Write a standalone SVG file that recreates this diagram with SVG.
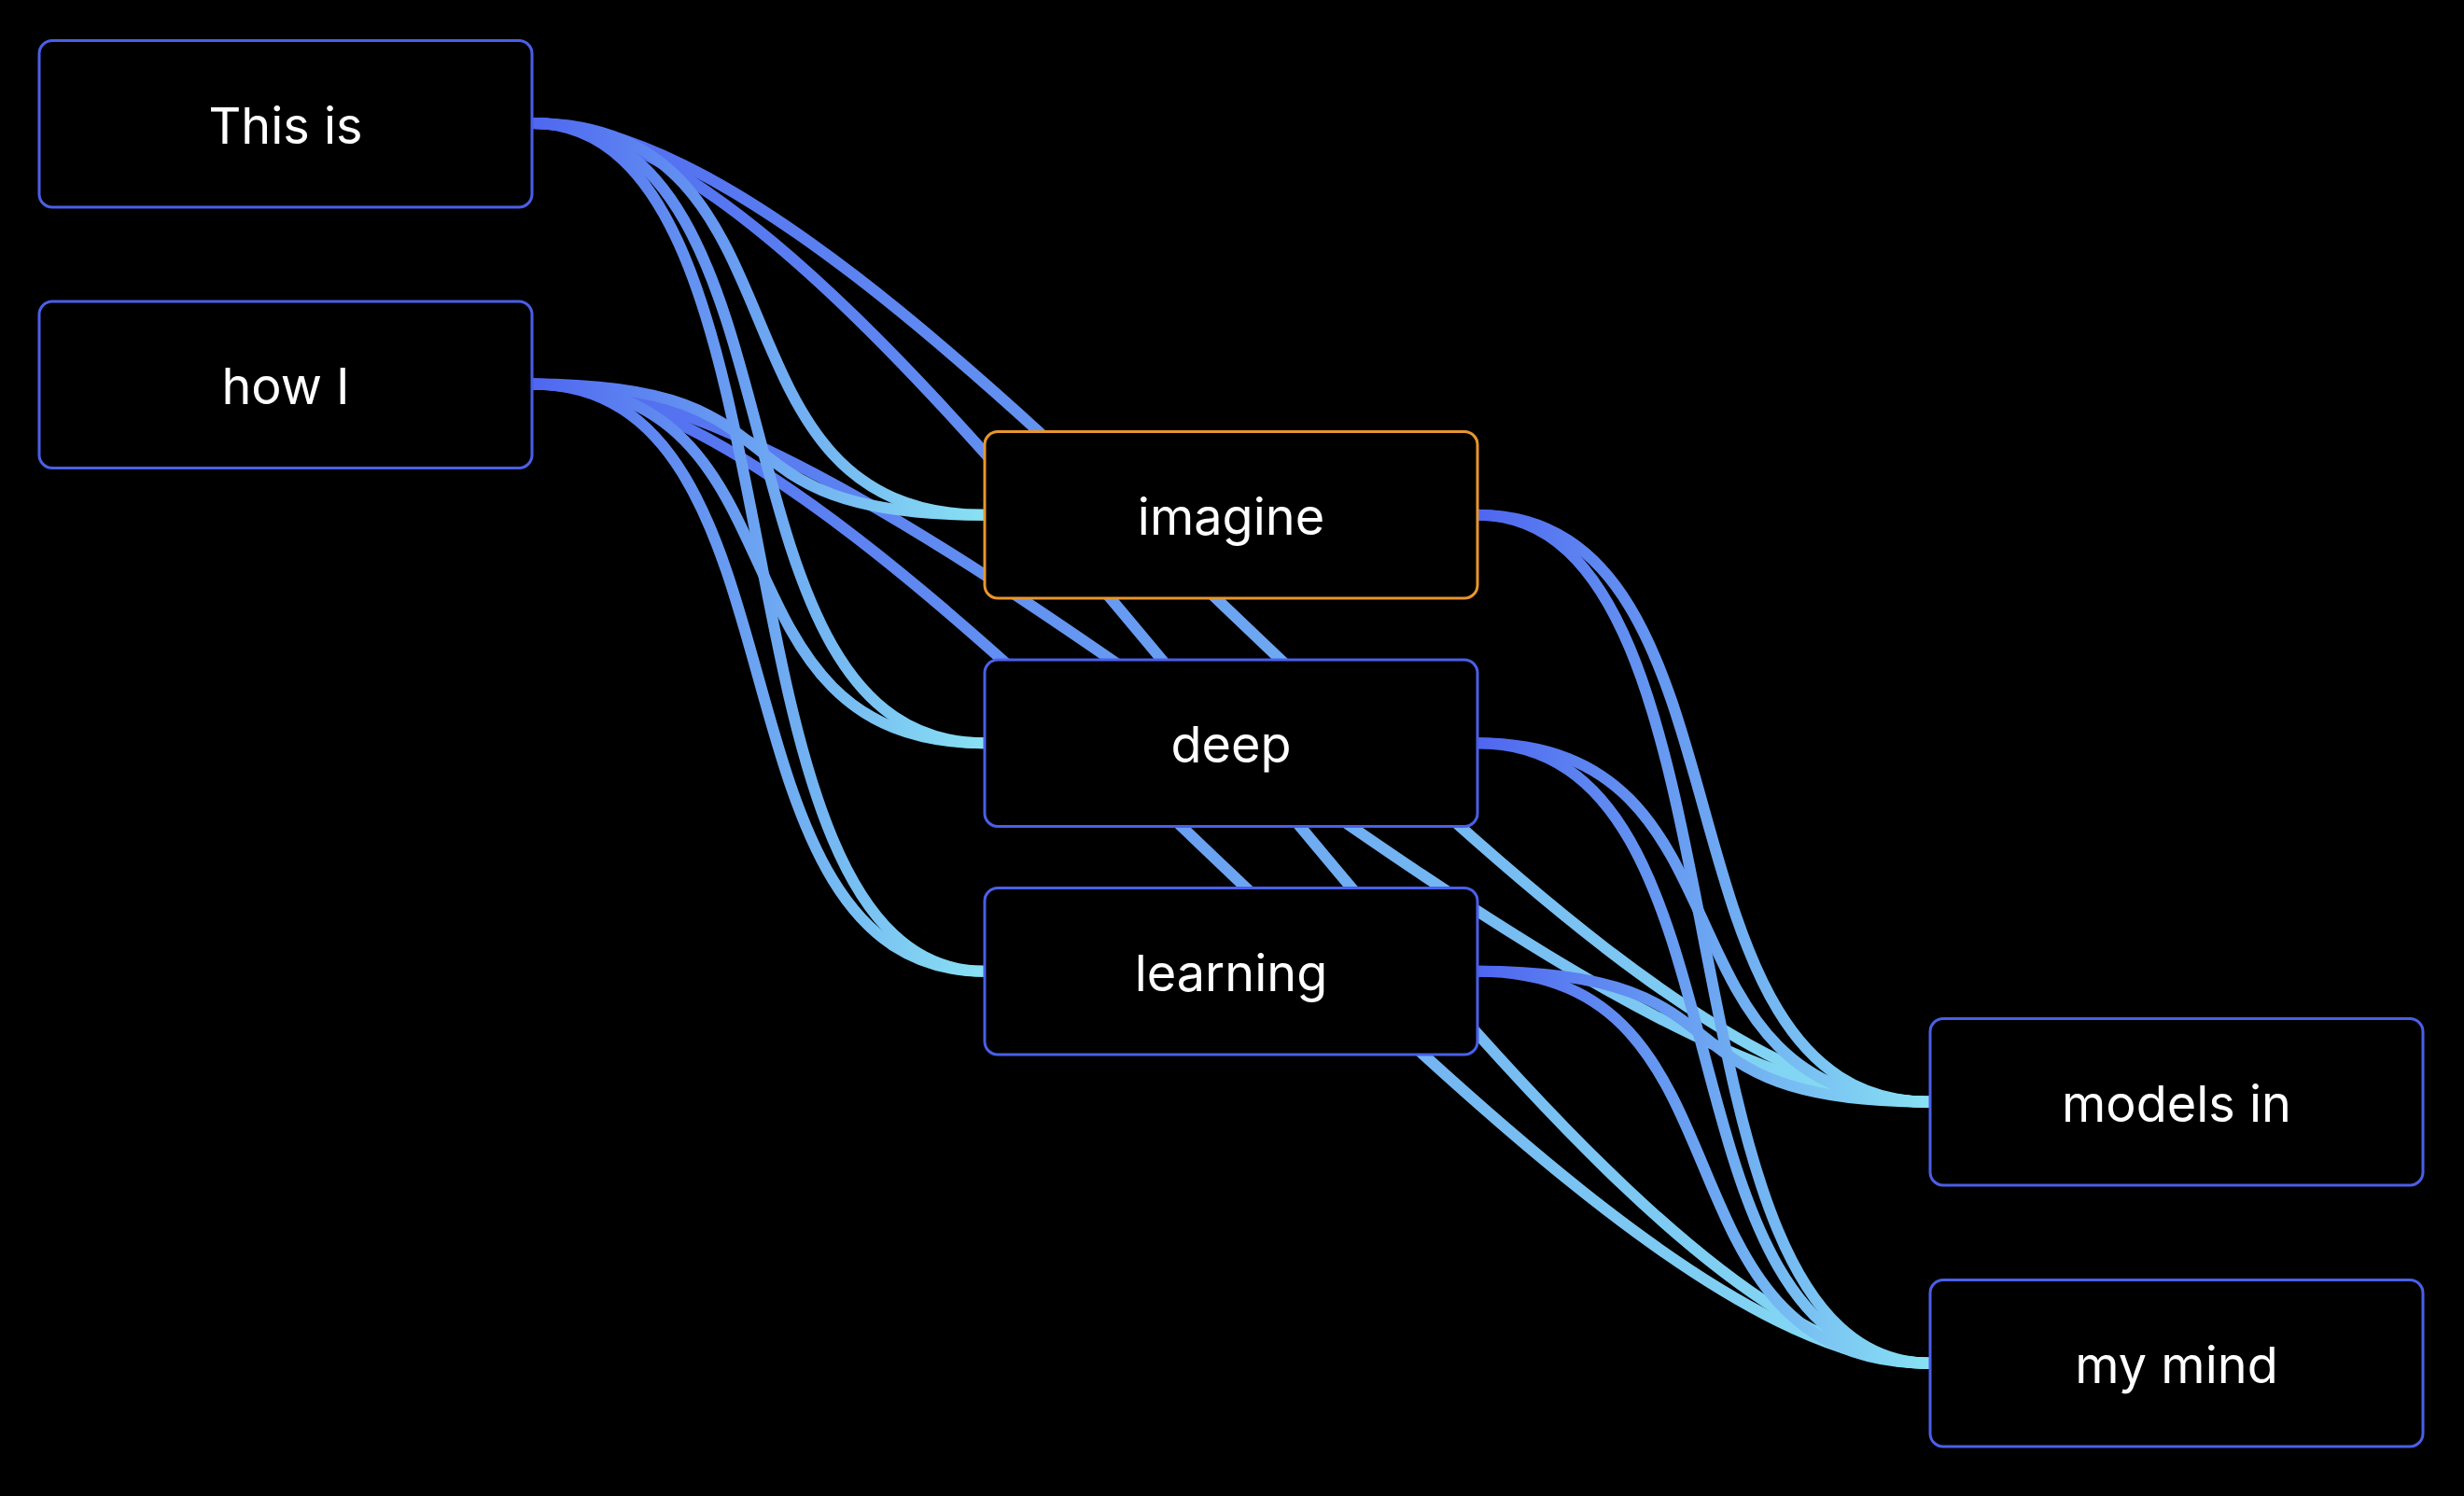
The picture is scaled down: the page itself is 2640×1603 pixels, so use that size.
<svg xmlns="http://www.w3.org/2000/svg" width="2640" height="1603" viewBox="0 0 2640 1603">
  <defs>
    <linearGradient id="edgeGrad" x1="0" y1="0" x2="1" y2="0">
      <stop offset="0" stop-color="#4F66F0"/>
      <stop offset="1" stop-color="#88E2F3"/>
    </linearGradient>
    <style>
      .edge { fill: none; stroke: url(#edgeGrad); stroke-width: 12; stroke-linecap: butt; }
      .box { fill: #000000; stroke: #4A5FE8; stroke-width: 3; }
      .box.sel { stroke: #E8962E; }
      .lbl { fill: #FFFFFF; font-family: Inter, "Noto Sans", "Liberation Sans", sans-serif; font-size: 54px; text-anchor: middle; }
    </style>
  </defs>
  <rect x="0" y="0" width="2640" height="1603" fill="#000000"/>
  <g id="connectors">
    <path class="edge" d="M570,132 C970,132 1668,1180.75 2068,1180.75"/>
    <path class="edge" d="M570,132 C970,132 1668,1460.75 2068,1460.75"/>
    <path class="edge" d="M570,411.5 C970,411.5 1668,1180.75 2068,1180.75"/>
    <path class="edge" d="M570,411.5 C970,411.5 1668,1460.75 2068,1460.75"/>
    <path class="edge" d="M570,132 C880,132 745,551.75 1055,551.75"/>
    <path class="edge" d="M570,132 C880,132 745,796.25 1055,796.25"/>
    <path class="edge" d="M570,132 C880,132 745,1040.75 1055,1040.75"/>
    <path class="edge" d="M570,411.5 C880,411.5 745,551.75 1055,551.75"/>
    <path class="edge" d="M570,411.5 C880,411.5 745,796.25 1055,796.25"/>
    <path class="edge" d="M570,411.5 C880,411.5 745,1040.75 1055,1040.75"/>
    <path class="edge" d="M1583,551.75 C1893,551.75 1758,1180.75 2068,1180.75"/>
    <path class="edge" d="M1583,551.75 C1893,551.75 1758,1460.75 2068,1460.75"/>
    <path class="edge" d="M1583,796.25 C1893,796.25 1758,1180.75 2068,1180.75"/>
    <path class="edge" d="M1583,796.25 C1893,796.25 1758,1460.75 2068,1460.75"/>
    <path class="edge" d="M1583,1040.75 C1893,1040.75 1758,1180.75 2068,1180.75"/>
    <path class="edge" d="M1583,1040.75 C1893,1040.75 1758,1460.75 2068,1460.75"/>
  </g>
  <g id="node-this-is">
    <rect class="box" x="42" y="43.5" width="528" height="178.5" rx="14"/>
    <text class="lbl" x="306" y="153.5">This is</text>
  </g>
  <g id="node-how-i">
    <rect class="box" x="42" y="323" width="528" height="178.5" rx="14"/>
    <text class="lbl" x="306" y="433">how I</text>
  </g>
  <g id="node-imagine">
    <rect class="box sel" x="1055" y="462.5" width="528" height="178.5" rx="14"/>
    <text class="lbl" x="1319" y="572.75">imagine</text>
  </g>
  <g id="node-deep">
    <rect class="box" x="1055" y="707" width="528" height="178.5" rx="14"/>
    <text class="lbl" x="1319" y="817.25">deep</text>
  </g>
  <g id="node-learning">
    <rect class="box" x="1055" y="951.5" width="528" height="178.5" rx="14"/>
    <text class="lbl" x="1319" y="1061.75">learning</text>
  </g>
  <g id="node-models-in">
    <rect class="box" x="2068" y="1091.5" width="528" height="178.5" rx="14"/>
    <text class="lbl" x="2332" y="1201.75">models in</text>
  </g>
  <g id="node-my-mind">
    <rect class="box" x="2068" y="1371.5" width="528" height="178.5" rx="14"/>
    <text class="lbl" x="2332" y="1481.75">my mind</text>
  </g>
</svg>
